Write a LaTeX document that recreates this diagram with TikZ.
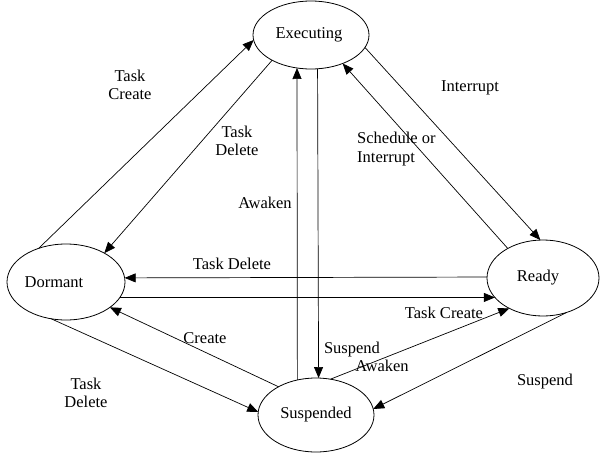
\documentclass[tikz,border=0pt]{standalone}
\usepackage{fontspec}
\setmainfont{Liberation Serif}
\usetikzlibrary{arrows.meta,shapes.geometric}

\begin{document}
\begin{tikzpicture}[x=1pt,y=-1pt,
  state/.style={draw, ellipse, inner sep=0pt, outer sep=0pt, line width=0.8pt,
    font=\fontsize{16.5}{18.5}\selectfont},
  flow/.style={-{Triangle[length=11pt,width=9pt]}, line width=0.7pt},
  lbl/.style={font=\fontsize{16.5}{18.5}\selectfont, align=center, inner sep=0pt},
]
\fill[white] (0,0) rectangle (600,453);
\useasboundingbox (0,0) rectangle (600,453);

% task states (negative space moves a name off the centre)
\node[state, minimum width=116pt, minimum height=68pt] (exe) at (311,35) {\hspace*{-4pt}Executing};
\node[state, minimum width=118pt, minimum height=76pt] (dor) at (66,282) {\hspace*{-24pt}Dormant};
\node[state, minimum width=112pt, minimum height=76pt] (rdy) at (543,278) {\hspace*{-10pt}Ready};
\node[state, minimum width=116pt, minimum height=74pt] (sus) at (316,415) {Suspended};

% transitions
\draw[flow] (dor.129) -- (exe.185);
\draw[flow] (exe.213) -- (dor.37);
\draw[flow] (exe.347) -- (rdy.94);
\draw[flow] (rdy.140) -- (exe.318);
\draw[flow] (rdy.179) -- (dor.4.9);
\draw[flow] (dor.-16.65) -- (rdy.202.79);
\draw[flow] (sus.118.5) -- (exe.247);
\draw[flow] (exe.281.7) -- (sus.86.9);
\draw[flow] (sus.143.4) -- (dor.-30);
\draw[flow] (dor.248.7) -- (sus.177);
\draw[flow] (sus.68.2) -- (rdy.222.6);
\draw[flow] (rdy.305.4) -- (sus.6.9);

% transition labels
\node[lbl] (l1) at (130,85) {Task\\Create};
\node[lbl] (l2) at (237,141) {Task\\Delete};
\node[lbl] (l3) at (470,88) {Interrupt};
\node[lbl, align=left, anchor=west] (l4) at (357,149) {Schedule or\\Interrupt};
\node[lbl] (l5) at (232,264) {Task Delete};
\node[lbl] (l6) at (444,313) {Task Create};
\node[lbl] (l7) at (265,203) {Awaken};
\node[lbl] (l8) at (352,350) {Suspend};
\node[lbl] (l9) at (205,338) {Create};
\node[lbl] (l10) at (86,393) {Task\\Delete};
\node[lbl] (l11) at (382,366) {Awaken};
\node[lbl] (l12) at (545,382) {Suspend};
\end{tikzpicture}
\end{document}
